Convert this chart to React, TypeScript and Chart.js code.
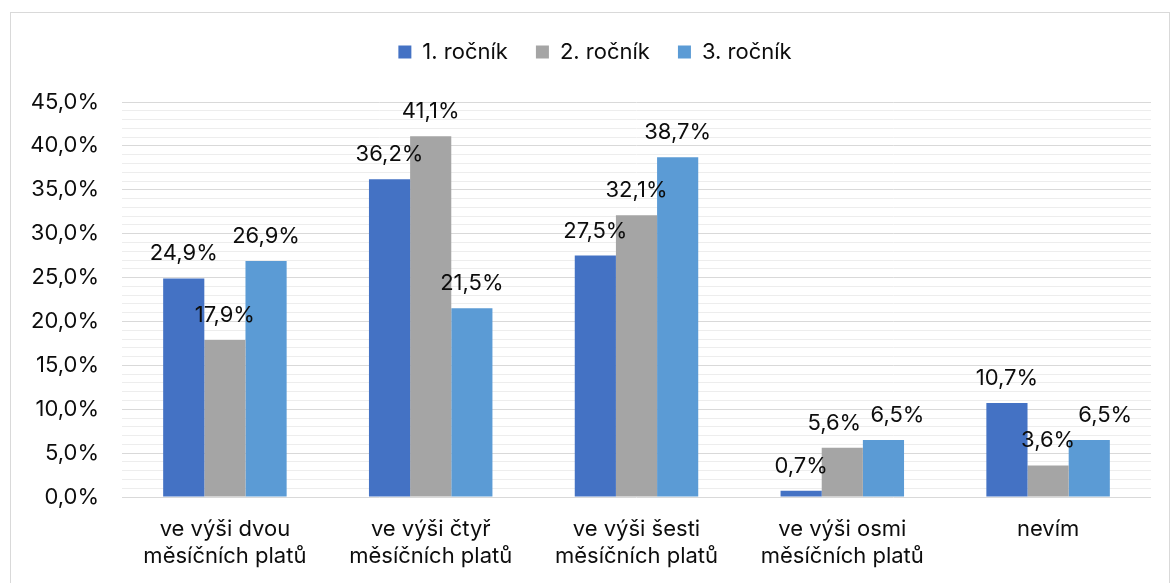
import React, { useEffect, useRef } from "react";
import { Chart, registerables } from "chart.js";

Chart.register(...registerables);

const categories: string[][] = [
  ["ve výši dvou", "měsíčních platů"],
  ["ve výši čtyř", "měsíčních platů"],
  ["ve výši šesti", "měsíčních platů"],
  ["ve výši osmi", "měsíčních platů"],
  ["nevím"],
];
const seriesNames = ["1. ročník", "2. ročník", "3. ročník"];
const rocnik1 = [24.9, 36.2, 27.5, 0.7, 10.7];
const rocnik2 = [17.9, 41.1, 32.1, 5.6, 3.6];
const rocnik3 = [26.9, 21.5, 38.7, 6.5, 6.5];
const seriesColors = ["#4472C4", "#A5A5A5", "#5B9BD5"];
const yMin = 0;
const yMax = 45;

const FONT = "Inter, 'Noto Sans', sans-serif";
const fmt = (v: number) => v.toFixed(1).replace(".", ",") + "%";

const dataLabelPlugin = {
  id: "dataLabels",
  afterDatasetsDraw(chart: any, _args: any, opts: any) {
    const ctx = chart.ctx;
    const nudges: Record<string, number> = (opts && opts.nudges) || {};
    ctx.save();
    ctx.font = `22px ${FONT}`;
    ctx.fillStyle = "#0d0d0d";
    ctx.textAlign = "center";
    ctx.textBaseline = "alphabetic";
    chart.data.datasets.forEach((ds: any, i: number) => {
      const meta = chart.getDatasetMeta(i);
      meta.data.forEach((el: any, j: number) => {
        const dx = nudges[`${i}-${j}`] || 0;
        ctx.fillText(fmt(ds.data[j]), el.x + dx, el.y - 18);
      });
    });
    ctx.restore();
  },
};

const legendHeightPlugin = {
  id: "legendHeight",
  beforeLayout(chart: any) {
    const lg = chart.legend;
    if (lg && !lg.__patched) {
      const orig = lg.fit.bind(lg);
      lg.fit = function () {
        orig();
        this.height = 89;
      };
      lg.__patched = true;
    }
  },
  afterLayout(chart: any) {
    const lg = chart.legend;
    if (lg) {
      lg.left += 14;
      lg.right += 14;
    }
  },
};

export default function App() {
  const ref = useRef<HTMLCanvasElement | null>(null);
  useEffect(() => {
    if (!ref.current) return;
    const seriesData = [rocnik1, rocnik2, rocnik3];
    const chart = new Chart(ref.current, {
      type: "bar",
      data: {
        labels: categories,
        datasets: seriesNames.map((name, i) => ({
          label: name,
          data: seriesData[i],
          backgroundColor: seriesColors[i],
          borderWidth: 0,
          categoryPercentage: 0.6,
          barPercentage: 1.0,
        })),
      },
      options: {
        animation: false,
        responsive: false,
        maintainAspectRatio: false,
        layout: { padding: { left: 0, right: 18, top: 0, bottom: 0 } },
        plugins: {
          dataLabels: { nudges: { "1-3": -8, "2-3": 14, "2-4": 16 } },
          legend: {
            display: true,
            position: "top",
            labels: {
              font: { family: FONT, size: 22 },
              color: "#0d0d0d",
              boxWidth: 13,
              boxHeight: 13,
              padding: 28,
            },
          },
          tooltip: { enabled: false },
        },
        scales: {
          x: {
            grid: { display: false },
            border: { display: false },
            ticks: {
              font: { family: FONT, size: 22, lineHeight: 1.227 },
              color: "#0d0d0d",
              padding: 11,
              maxRotation: 0,
              autoSkip: false,
            },
            afterFit(scale: any) {
              scale.height = 94;
            },
          },
          y: {
            min: yMin,
            max: yMax,
            border: { display: false },
            grid: {
              drawTicks: false,
              color: (c: any) => (c.tick && c.tick.value % 5 === 0 ? "#d9d9d9" : "#ededed"),
              lineWidth: 1,
            },
            ticks: {
              stepSize: 1,
              autoSkip: false,
              padding: 23,
              font: { family: FONT, size: 22 },
              color: "#0d0d0d",
              callback: (v: any) => (Number(v) % 5 === 0 ? fmt(Number(v)) : ""),
            },
            afterFit(scale: any) {
              scale.width = 111;
            },
          },
        },
      },
      plugins: [legendHeightPlugin, dataLabelPlugin],
    } as any);
    return () => chart.destroy();
  }, []);

  return (
    <div
      style={{
        position: "absolute",
        left: 10,
        top: 12,
        width: 1160,
        height: 580,
        boxSizing: "border-box",
        border: "1px solid #d9d9d9",
        background: "#fff",
      }}
    >
      <canvas ref={ref} width={1158} height={578} style={{ display: "block" }} />
    </div>
  );
}
